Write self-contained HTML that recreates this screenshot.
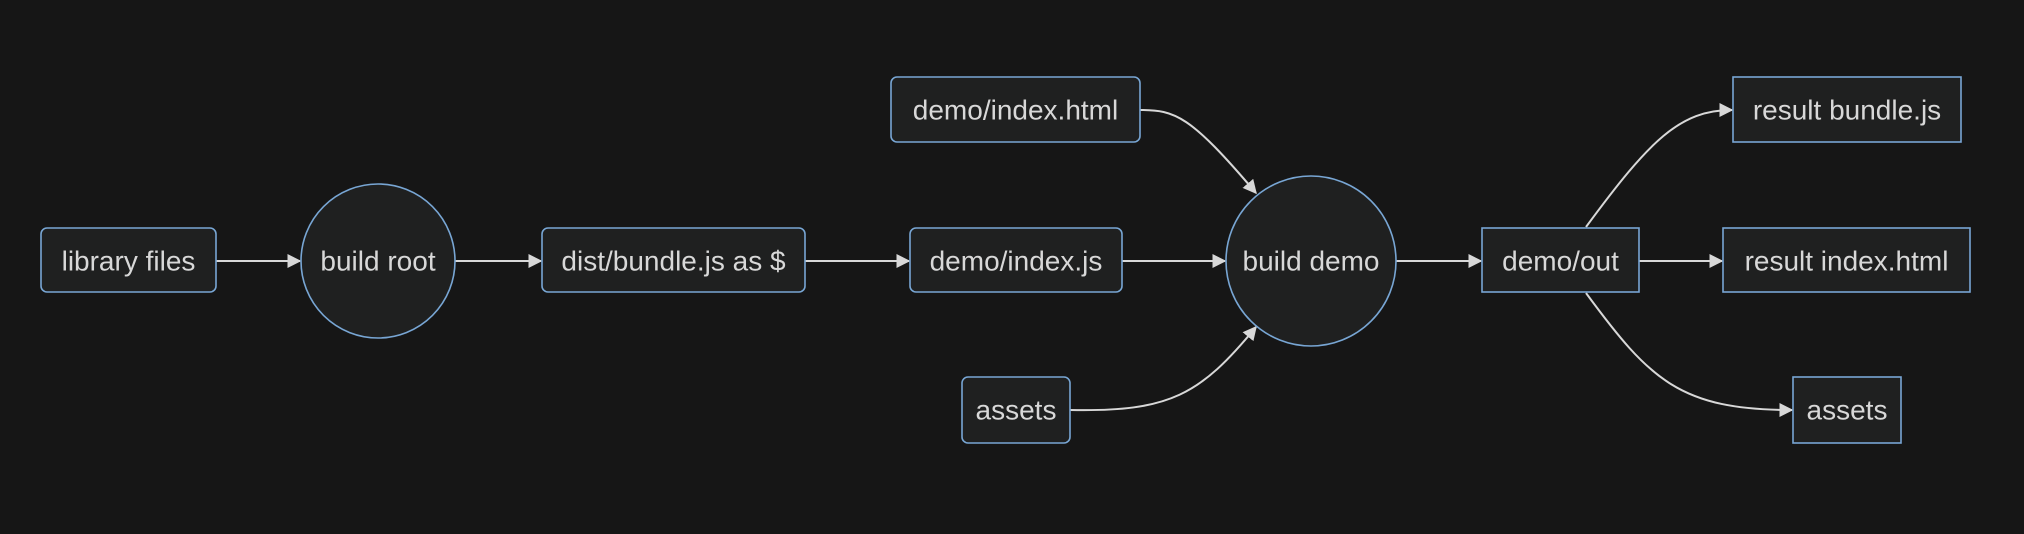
<!DOCTYPE html>
<html><head><meta charset="utf-8"><style>
html,body{margin:0;padding:0;background:#161616;}
svg{display:block}
text{font-family:"Liberation Sans",sans-serif;font-size:28px;fill:#d8d8d8;text-anchor:middle;dominant-baseline:central}
.n{fill:#1f2020;stroke:#78a6d4;stroke-width:1.6}
.e{fill:none;stroke:#d8d8d8;stroke-width:2}
</style></head><body>
<svg width="2024" height="534" viewBox="0 0 2024 534">
<defs>
<marker id="b" viewBox="0 0 10 10" refX="9" refY="5" markerWidth="14" markerHeight="14" orient="auto" markerUnits="userSpaceOnUse"><path d="M0,0L10,5L0,10z" fill="#d8d8d8"/></marker></defs>
<rect width="2024" height="534" fill="#161616"/>
<path class="e" marker-end="url(#b)" d="M216,261H300"/>
<path class="e" marker-end="url(#b)" d="M455,261H541"/>
<path class="e" marker-end="url(#b)" d="M805,261H909"/>
<path class="e" marker-end="url(#b)" d="M1122,261H1225"/>
<path class="e" marker-end="url(#b)" d="M1396,261H1481"/>
<path class="e" marker-end="url(#b)" d="M1639,261H1722"/>
<path class="e" marker-end="url(#b)" d="M1140,110C1175,110 1190,115 1256,193"/>
<path class="e" marker-end="url(#b)" d="M1070,410C1170,412 1200,395 1256,327"/>
<path class="e" marker-end="url(#b)" d="M1586,227C1650,140 1680,110 1732,110"/>
<path class="e" marker-end="url(#b)" d="M1586,293C1650,380 1680,410 1792,410"/>
<rect class="n" x="41" y="228" width="175" height="64" rx="6"/><text x="128.5" y="261">library files</text>
<circle class="n" cx="378" cy="261" r="77"/><text x="378" y="261">build root</text>
<rect class="n" x="542" y="228" width="263" height="64" rx="6"/><text x="673.5" y="261">dist/bundle.js as $</text>
<rect class="n" x="910" y="228" width="212" height="64" rx="6"/><text x="1016" y="261">demo/index.js</text>
<rect class="n" x="891" y="77" width="249" height="65" rx="6"/><text x="1015.5" y="110">demo/index.html</text>
<rect class="n" x="962" y="377" width="108" height="66" rx="6"/><text x="1016" y="410">assets</text>
<circle class="n" cx="1311" cy="261" r="85"/><text x="1311" y="261">build demo</text>
<rect class="n" x="1482" y="228" width="157" height="64"/><text x="1560.5" y="261">demo/out</text>
<rect class="n" x="1733" y="77" width="228" height="65"/><text x="1847" y="110">result bundle.js</text>
<rect class="n" x="1723" y="228" width="247" height="64"/><text x="1846.5" y="261">result index.html</text>
<rect class="n" x="1793" y="377" width="108" height="66"/><text x="1847" y="410">assets</text>
</svg>
</body></html>
